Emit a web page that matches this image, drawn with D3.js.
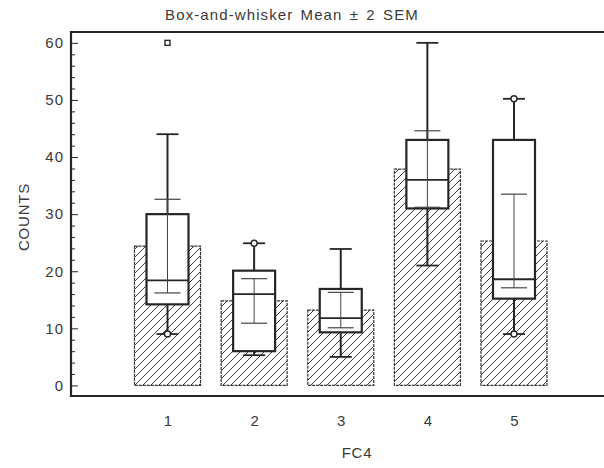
<!DOCTYPE html>
<html>
<head>
<meta charset="utf-8">
<script src="https://cdn.jsdelivr.net/npm/d3@7"></script>
<style>
  html, body { margin: 0; padding: 0; background: #fff; }
  svg { display: block; font-family: "Liberation Sans", Arial, sans-serif; }
</style>
</head>
<body>
<svg id="chart" width="604" height="468"></svg>
<script>
// FC4 groups
const categories = ["1", "2", "3", "4", "5"];
// group means (hatched bars) and 2×SEM half-widths
const means = [24.4, 14.8, 13.2, 37.9, 25.3];
const sem2 = [8.2, 3.9, 3.1, 6.7, 8.2];
// box-and-whisker summaries
const q1 = [14.2, 6.0, 9.3, 31.0, 15.2];
const medians = [18.4, 16.0, 11.8, 36.0, 18.6];
const q3 = [30.0, 20.1, 16.9, 43.0, 43.0];
const whiskerLow = [9.0, 5.3, 5.0, 21.0, 9.0];
const whiskerHigh = [44.0, 24.9, 23.9, 60.0, 50.2];
// far-out points and whisker-end markers
const outlierCats = ["1"];
const outlierVals = [60];
const endMarkCats = ["1", "2", "5", "5"];
const endMarkVals = [9.0, 24.9, 50.2, 9.0];
const yTicks = [0, 10, 20, 30, 40, 50, 60];

const ink = "#262626";
const textInk = "#3a3a3a";
const svg = d3.select("#chart");

const y = d3.scaleLinear().domain([-1.85, 61.9]).range([396, 32]);
const x = d3.scalePoint().domain(categories).range([167.5, 514]);

const barW = 66, boxW = 42, capW = 22, semCapW = 26;

// diagonal hatch pattern for the mean bars
const defs = svg.append("defs");
const pat = defs.append("pattern")
  .attr("id", "hatch").attr("patternUnits", "userSpaceOnUse")
  .attr("width", 8).attr("height", 8);
pat.append("path").attr("d", "M-2,10 L10,-2 M-2,2 L2,-2 M6,10 L10,6")
  .attr("stroke", "#3a3a3a").attr("stroke-width", 1);

// title
svg.append("text").attr("x", 292).attr("y", 20).attr("text-anchor", "middle")
  .attr("font-size", 15).attr("fill", textInk)
  .attr("letter-spacing", 1.1).attr("word-spacing", 2)
  .text("Box-and-whisker  Mean  \u00B1 2 SEM");

// frame lines (top, bottom)
svg.append("line").attr("x1", 71).attr("x2", 604).attr("y1", 32).attr("y2", 32)
  .attr("stroke", ink).attr("stroke-width", 2);
svg.append("line").attr("x1", 71).attr("x2", 604).attr("y1", 396).attr("y2", 396)
  .attr("stroke", ink).attr("stroke-width", 2);

// y axis: major ticks with labels, minor ticks every 2
const minor = d3.range(0, 62, 2).filter(v => v % 10 !== 0);
svg.append("g").attr("transform", "translate(71,0)")
  .call(d3.axisLeft(y).tickValues(minor).tickSize(-4).tickFormat(""))
  .call(g => g.select(".domain").remove())
  .call(g => g.selectAll("line").attr("stroke", ink));
const yAxis = svg.append("g").attr("transform", "translate(71,0)")
  .call(d3.axisLeft(y).tickValues(yTicks).tickSize(-7).tickPadding(7).tickFormat(d3.format("d")));
yAxis.select(".domain").remove();
yAxis.selectAll("line").attr("stroke", ink);
yAxis.selectAll("text").attr("font-size", 15).attr("fill", textInk)
  .attr("letter-spacing", 1)
  .attr("font-family", "Liberation Sans, Arial, sans-serif");
svg.append("line").attr("x1", 71).attr("x2", 71).attr("y1", 31).attr("y2", 397)
  .attr("stroke", ink).attr("stroke-width", 2.2);

// x axis labels
const xAxis = svg.append("g").attr("transform", "translate(0,396)")
  .call(d3.axisBottom(x).tickSize(0).tickPadding(19));
xAxis.select(".domain").remove();
xAxis.selectAll("text").attr("font-size", 15).attr("fill", textInk)
  .attr("font-family", "Liberation Sans, Arial, sans-serif");

// axis titles
svg.append("text").attr("x", 357).attr("y", 458).attr("text-anchor", "middle")
  .attr("font-size", 15).attr("fill", textInk).attr("letter-spacing", 0.8).text("FC4");
svg.append("text").attr("transform", "translate(29,217) rotate(-90)")
  .attr("text-anchor", "middle").attr("font-size", 15).attr("fill", textInk)
  .attr("letter-spacing", 0.8).text("COUNTS");

const idx = categories.map((c, i) => i);

// hatched mean bars
svg.append("g").selectAll("rect").data(idx).join("rect")
  .attr("x", i => x(categories[i]) - barW / 2)
  .attr("width", barW)
  .attr("y", i => y(means[i]))
  .attr("height", i => y(0) - y(means[i]))
  .attr("fill", "url(#hatch)")
  .attr("stroke", "#333").attr("stroke-width", 1.2)
  .attr("stroke-dasharray", "3,1");

const g = svg.append("g");
idx.forEach(i => {
  const cx = x(categories[i]);
  // whiskers
  g.append("line").attr("x1", cx).attr("x2", cx)
    .attr("y1", y(whiskerHigh[i])).attr("y2", y(q3[i]))
    .attr("stroke", ink).attr("stroke-width", 2);
  g.append("line").attr("x1", cx).attr("x2", cx)
    .attr("y1", y(q1[i])).attr("y2", y(whiskerLow[i]))
    .attr("stroke", ink).attr("stroke-width", 2);
  [whiskerHigh[i], whiskerLow[i]].forEach(v => {
    g.append("line").attr("x1", cx - capW / 2).attr("x2", cx + capW / 2)
      .attr("y1", y(v)).attr("y2", y(v))
      .attr("stroke", ink).attr("stroke-width", 1.8);
  });
  // box
  g.append("rect").attr("x", cx - boxW / 2).attr("width", boxW)
    .attr("y", y(q3[i])).attr("height", y(q1[i]) - y(q3[i]))
    .attr("fill", "#fff").attr("stroke", ink).attr("stroke-width", 2.2);
  // median
  g.append("line").attr("x1", cx - boxW / 2).attr("x2", cx + boxW / 2)
    .attr("y1", y(medians[i])).attr("y2", y(medians[i]))
    .attr("stroke", ink).attr("stroke-width", 1.8);
  // mean ± 2 SEM
  const lo = means[i] - sem2[i], hi = means[i] + sem2[i];
  g.append("line").attr("x1", cx).attr("x2", cx)
    .attr("y1", y(hi)).attr("y2", y(lo))
    .attr("stroke", "#444").attr("stroke-width", 1);
  [hi, lo].forEach(v => {
    g.append("line").attr("x1", cx - semCapW / 2).attr("x2", cx + semCapW / 2)
      .attr("y1", y(v)).attr("y2", y(v))
      .attr("stroke", "#444").attr("stroke-width", 1.2);
  });
});

// whisker-end markers
g.selectAll("circle.end").data(endMarkVals).join("circle").attr("class", "end")
  .attr("cx", (v, k) => x(endMarkCats[k])).attr("cy", v => y(v))
  .attr("r", 3).attr("fill", "#fff").attr("stroke", ink).attr("stroke-width", 1.4);

// outliers
g.selectAll("rect.out").data(outlierVals).join("rect").attr("class", "out")
  .attr("x", (v, k) => x(outlierCats[k]) - 2.5).attr("y", v => y(v) - 2.5)
  .attr("width", 5).attr("height", 5)
  .attr("fill", "#fff").attr("stroke", ink).attr("stroke-width", 1.4);
</script>
</body>
</html>
